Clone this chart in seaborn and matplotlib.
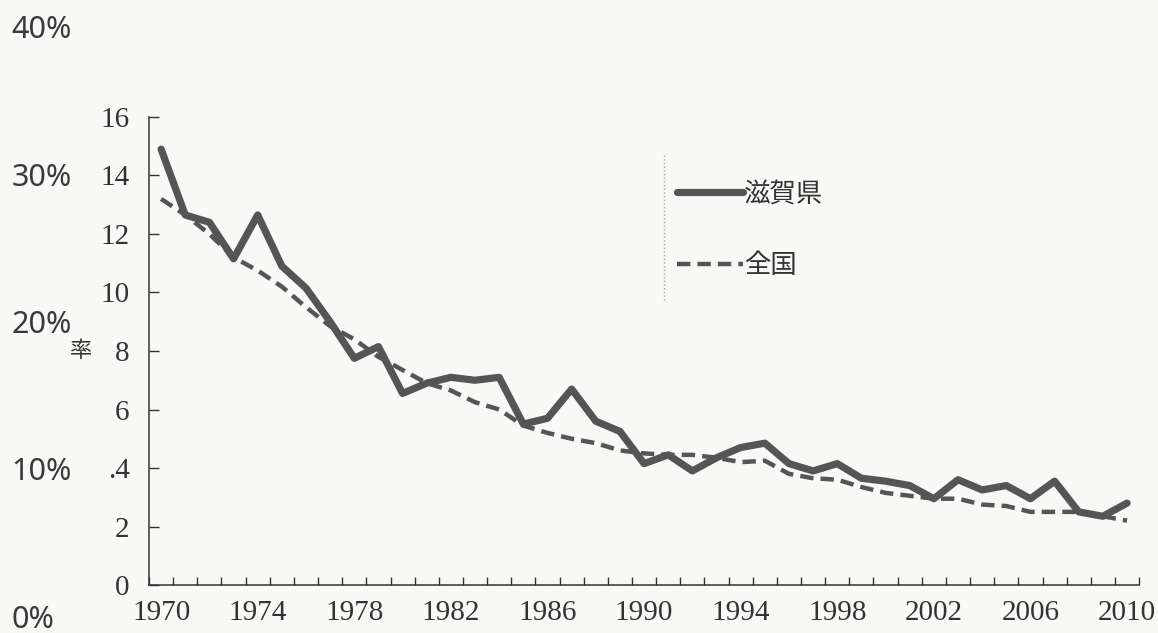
import matplotlib
matplotlib.use("Agg")
import matplotlib.pyplot as plt
import numpy as np
import pandas as pd
import seaborn as sns

# data
years = list(range(1970, 2011))
shiga = [14.9, 12.65, 12.4, 11.15, 12.65, 10.9, 10.15, 9.0, 7.75, 8.15,
         6.55, 6.9, 7.1, 7.0, 7.1, 5.5, 5.7, 6.7, 5.6, 5.25,
         4.15, 4.45, 3.9, 4.35, 4.7, 4.85, 4.15, 3.9, 4.15, 3.65,
         3.55, 3.4, 2.95, 3.6, 3.25, 3.4, 2.95, 3.55, 2.5, 2.35, 2.8]
zenkoku = [13.2, 12.65, 12.0, 11.2, 10.75, 10.2, 9.5, 8.85, 8.4, 7.8,
           7.35, 6.9, 6.65, 6.25, 6.0, 5.45, 5.2, 5.0, 4.85, 4.6,
           4.5, 4.45, 4.45, 4.35, 4.2, 4.25, 3.8, 3.65, 3.6, 3.35,
           3.15, 3.05, 2.95, 2.95, 2.75, 2.7, 2.5, 2.5, 2.5, 2.35, 2.2]
yticks = [0, 2, 4, 6, 8, 10, 12, 14, 16]
ytick_labels = ["0", "2", ".4", "6", "8", "10", "12", "14", "16"]
xtick_years = [1970, 1974, 1978, 1982, 1986, 1990, 1994, 1998, 2002, 2006, 2010]
pct_labels = ["40%", "30%", "20%", "10%", "0%"]

sns.set_style("ticks")
plt.rcParams['font.family'] = ['Liberation Serif', 'Noto Sans CJK JP']
bg = "#f8f8f6"
ink = "#333333"

fig = plt.figure(figsize=(11.58, 6.33), dpi=100, facecolor=bg)
ax = fig.add_axes([0.1287, 0.0758, 0.855, 0.7394])
ax.set_facecolor(bg)

sns.lineplot(x=years, y=shiga, ax=ax, color="#555555", linewidth=5.2,
             label="滋賀県", solid_capstyle="round")
sns.lineplot(x=years, y=zenkoku, ax=ax, color="#555555", linewidth=3.2,
             label="全国", linestyle=(0, (3, 1.6)))

ax.set_xlim(1969.5, 2010.5)
ax.set_ylim(0, 16)
ax.set_xticks(xtick_years)
ax.set_xticklabels([str(y) for y in xtick_years], fontsize=21, color=ink)
ax.set_xticks(np.arange(1969.5, 2011, 1), minor=True)
ax.tick_params(axis="x", which="major", length=0, pad=11)
ax.tick_params(axis="x", which="minor", direction="in", length=6, width=1, color=ink)
ax.set_yticks(yticks)
ax.set_yticklabels(ytick_labels, fontsize=21, color=ink)
ax.tick_params(axis="y", direction="in", length=7, width=1, color=ink, pad=14)
sns.despine(ax=ax, top=True, right=True)
for s in ["left", "bottom"]:
    ax.spines[s].set_color(ink)
    ax.spines[s].set_linewidth(1.1)

ax.set_ylabel("率", rotation=0, fontsize=16, family=["Noto Sans CJK JP"],
              color=ink, va="center", ha="center")
ax.yaxis.set_label_coords(-0.069, 0.5)

leg = ax.legend(loc="center left", bbox_to_anchor=(0.533, 0.759), frameon=False,
                handlelength=2.5, handletextpad=0.05, labelspacing=1.7,
                borderpad=0, borderaxespad=0,
                prop={"family": ["Noto Sans CJK JP"], "size": 19})
for t in leg.get_texts():
    t.set_color(ink)

# faint dotted rule left of the legend
ax.plot([0.52, 0.52], [0.61, 0.92], transform=ax.transAxes, color="#aaaaaa",
        linestyle=":", linewidth=1)

# slide percent labels on the far left
for i, lab in enumerate(pct_labels):
    fig.text(0.010, 1 - (30 + i * 147.5) / 633, lab, fontsize=22,
             family=["Noto Sans"], weight="medium", color="#3a3a3a",
             va="center", ha="left")

fig.savefig("out.png", dpi=100, facecolor=bg)
